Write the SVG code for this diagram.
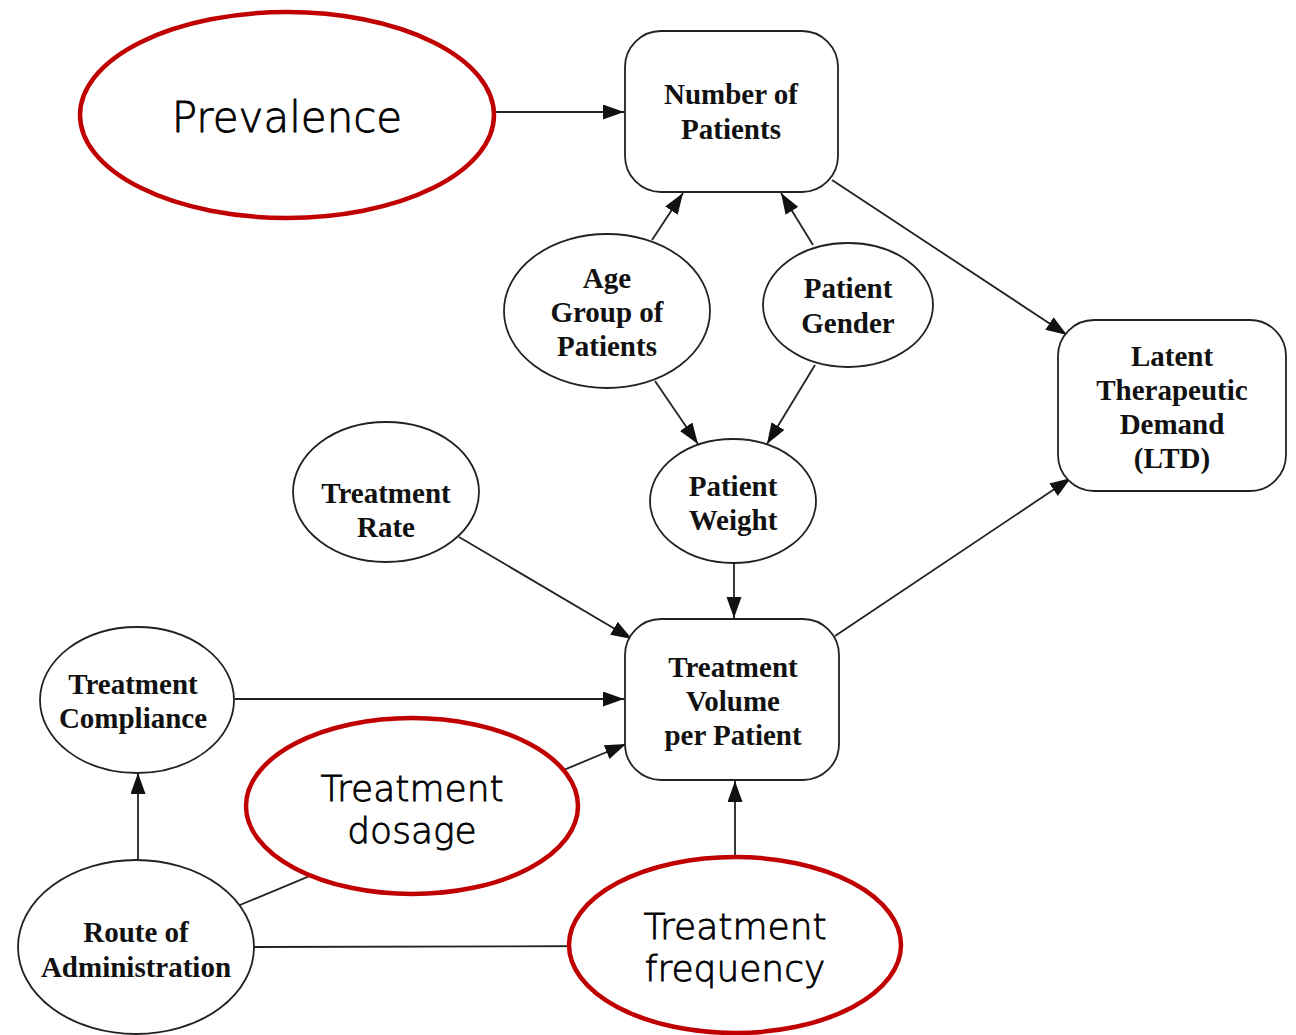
<svg xmlns="http://www.w3.org/2000/svg" width="1296" height="1035" viewBox="0 0 1296 1035">
  <defs>
    <marker id="arrow" markerUnits="userSpaceOnUse" markerWidth="22" markerHeight="16" refX="21" refY="7.5" orient="auto">
      <path d="M0,0 L21,7.5 L0,15 z" fill="#111"/>
    </marker>
    <style>
      .box { fill: #fff; stroke: #222; stroke-width: 1.8; }
      .hl { fill: #fff; stroke: #c00000; stroke-width: 4.5; }
      .edge { stroke: #222; stroke-width: 1.8; fill: none; }
      .arr { marker-end: url(#arrow); }
      .lbl { font-family: "Liberation Serif", "Times New Roman", serif; font-weight: bold; font-size: 29px; fill: #111; text-anchor: middle; }
      .big { font-family: "DejaVu Sans", "Noto Sans", sans-serif; font-weight: 300; font-size: 36px; fill: #000; stroke: #000; stroke-width: 0.8; text-anchor: middle; }
    </style>
  </defs>
  <rect width="1296" height="1035" fill="#fff"/>

  <!-- connectors -->
  <g id="connectors">
    <line class="edge arr" x1="495" y1="112" x2="624" y2="112"/>
    <line class="edge arr" x1="832" y1="180" x2="1067" y2="335"/>
    <line class="edge arr" x1="652" y1="240" x2="683" y2="193"/>
    <line class="edge arr" x1="813" y1="245" x2="781" y2="193"/>
    <line class="edge arr" x1="655" y1="381" x2="698" y2="444"/>
    <line class="edge arr" x1="815" y1="365" x2="767" y2="444"/>
    <line class="edge arr" x1="459" y1="537" x2="632" y2="639"/>
    <line class="edge arr" x1="734" y1="563" x2="734" y2="618"/>
    <line class="edge arr" x1="835" y1="636" x2="1071" y2="478"/>
    <line class="edge arr" x1="235" y1="699" x2="624" y2="699"/>
    <line class="edge arr" x1="240" y1="905" x2="626" y2="744"/>
    <line class="edge arr" x1="138" y1="860" x2="138" y2="773"/>
    <line class="edge" x1="254" y1="947" x2="620" y2="946"/>
    <line class="edge arr" x1="735" y1="860" x2="735" y2="781"/>
  </g>

  <g id="prevalence">
    <ellipse class="hl" cx="287" cy="115" rx="207" ry="103"/>
    <text class="big" x="287" y="132" style="font-size:42px">Prevalence</text>
  </g>

  <g id="number-of-patients">
    <rect class="box" x="625" y="31" width="213" height="161" rx="36"/>
    <text class="lbl" x="731" y="104">Number of</text>
    <text class="lbl" x="731" y="139">Patients</text>
  </g>

  <g id="latent-therapeutic-demand">
    <rect class="box" x="1058" y="320" width="228" height="171" rx="36"/>
    <text class="lbl" x="1172" y="366">Latent</text>
    <text class="lbl" x="1172" y="400">Therapeutic</text>
    <text class="lbl" x="1172" y="434">Demand</text>
    <text class="lbl" x="1172" y="468">(LTD)</text>
  </g>

  <g id="age-group">
    <ellipse class="box" cx="607" cy="311" rx="103" ry="77"/>
    <text class="lbl" x="607" y="288">Age</text>
    <text class="lbl" x="607" y="322">Group of</text>
    <text class="lbl" x="607" y="356">Patients</text>
  </g>

  <g id="patient-gender">
    <ellipse class="box" cx="848" cy="305" rx="85" ry="62"/>
    <text class="lbl" x="848" y="298">Patient</text>
    <text class="lbl" x="848" y="333">Gender</text>
  </g>

  <g id="patient-weight">
    <ellipse class="box" cx="733" cy="501" rx="83" ry="62"/>
    <text class="lbl" x="733" y="496">Patient</text>
    <text class="lbl" x="733" y="530">Weight</text>
  </g>

  <g id="treatment-rate">
    <ellipse class="box" cx="386" cy="492" rx="93" ry="70"/>
    <text class="lbl" x="386" y="503">Treatment</text>
    <text class="lbl" x="386" y="537">Rate</text>
  </g>

  <g id="treatment-volume">
    <rect class="box" x="625" y="619" width="214" height="161" rx="36"/>
    <text class="lbl" x="733" y="677">Treatment</text>
    <text class="lbl" x="733" y="711">Volume</text>
    <text class="lbl" x="733" y="745">per Patient</text>
  </g>

  <g id="treatment-compliance">
    <ellipse class="box" cx="137" cy="700" rx="97" ry="73"/>
    <text class="lbl" x="133" y="694">Treatment</text>
    <text class="lbl" x="133" y="728">Compliance</text>
  </g>

  <g id="route-of-administration">
    <ellipse class="box" cx="136" cy="947" rx="118" ry="87"/>
    <text class="lbl" x="136" y="942">Route of</text>
    <text class="lbl" x="136" y="977">Administration</text>
  </g>

  <g id="treatment-dosage">
    <ellipse class="hl" cx="412" cy="806" rx="166" ry="88"/>
    <text class="big" x="412" y="801">Treatment</text>
    <text class="big" x="412" y="843">dosage</text>
  </g>

  <g id="treatment-frequency">
    <ellipse class="hl" cx="735" cy="945" rx="166" ry="88"/>
    <text class="big" x="735" y="939">Treatment</text>
    <text class="big" x="735" y="981">frequency</text>
  </g>
</svg>
